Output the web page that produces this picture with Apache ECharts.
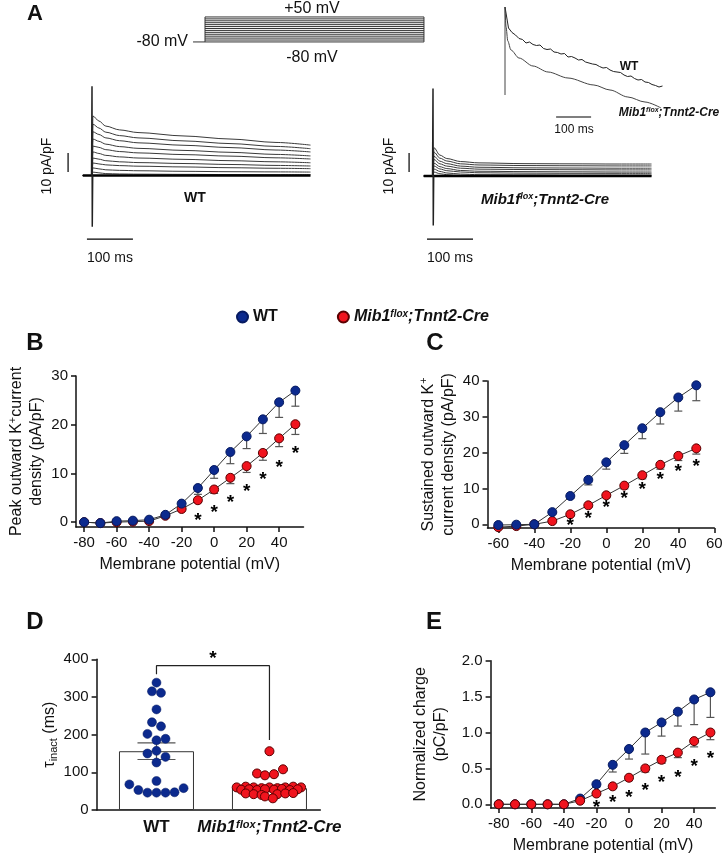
<!DOCTYPE html>
<html>
<head>
<meta charset="utf-8">
<script src="https://cdn.jsdelivr.net/npm/echarts@6/dist/echarts.min.js"></script>
<style>
html, body { margin: 0; padding: 0; background: #fff; }
#chart { width: 724px; height: 857px; }
</style>
</head>
<body>
<div id="chart"></div>
<script>
// ---------- A: voltage protocol (mV) ----------
const stepLevels = [-80, -70, -60, -50, -40, -30, -20, -10, 0, 10, 20, 30, 40, 50];
const stepMs = 476;

// ---------- A: current traces (ms, pA/pF) ----------
const traceTime = [-20, 0, 2, 15, 30, 60, 100, 200, 300, 400, 475];
const wtTraces = [
  [0, 0, 31.3, 28.7, 26.0, 24.0, 22.6, 20.8, 19.2, 17.4, 16.0],
  [0, 0, 27.0, 25.0, 22.8, 21.0, 19.8, 18.2, 16.8, 15.3, 14.1],
  [0, 0, 23.0, 21.6, 19.8, 18.3, 17.2, 15.9, 14.7, 13.4, 12.4],
  [0, 0, 19.2, 18.0, 16.5, 15.2, 14.3, 13.2, 12.2, 11.1, 10.3],
  [0, 0, 15.5, 14.8, 13.6, 12.6, 11.9, 11.0, 10.2, 9.3, 8.7],
  [0, 0, 12.4, 11.6, 10.6, 9.8, 9.2, 8.5, 7.8, 7.2, 6.7],
  [0, 0, 9.2, 8.6, 7.8, 7.2, 6.8, 6.3, 5.8, 5.3, 5.0],
  [0, 0, 6.6, 6.1, 5.6, 5.2, 4.9, 4.5, 4.1, 3.8, 3.6],
  [0, 0, 4.0, 3.5, 3.0, 2.7, 2.5, 2.2, 2.0, 1.9, 1.8],
  [0, 0, 1.8, 1.4, 1.0, 0.8, 0.7, 0.6, 0.5, 0.4, 0.4]
];
const koTraces = [
  [0, 0, 14.9, 11.0, 9.2, 7.6, 6.9, 6.5, 6.4, 6.3, 6.3],
  [0, 0, 12.6, 9.4, 7.9, 6.4, 5.8, 5.5, 5.4, 5.3, 5.3],
  [0, 0, 10.5, 7.8, 6.5, 5.2, 4.6, 4.3, 4.2, 4.1, 4.1],
  [0, 0, 8.7, 6.4, 5.2, 4.1, 3.6, 3.4, 3.3, 3.2, 3.2],
  [0, 0, 6.8, 4.9, 3.9, 2.9, 2.5, 2.3, 2.2, 2.1, 2.1],
  [0, 0, 5.3, 3.7, 2.8, 2.1, 1.7, 1.5, 1.4, 1.4, 1.4],
  [0, 0, 3.7, 2.4, 1.6, 1.0, 0.7, 0.6, 0.5, 0.5, 0.5],
  [0, 0, 2.1, 1.2, 0.7, 0.3, 0.2, 0.1, 0.1, 0.0, 0.0]
];
const wtSpike = [[-1, 0], [0, 47], [0.6, -27], [1.5, 0]];
const koSpike = [[-1, 0], [0, 46], [0.6, -26], [1.5, 0]];
const scaleMs = 100, scalePA = 10;

// ---------- A inset: normalized traces ----------
const insetWtT = [0, 10, 20, 30, 40, 50, 60, 70, 80, 90, 100, 110, 120, 130, 140, 150, 160, 170, 180, 190, 200, 210, 220,
  230, 240, 250, 260, 270, 280, 290, 300, 310, 320, 330, 340, 350, 360, 370, 380, 390, 400, 410, 420, 430, 440, 450];
const insetWt = [1.00, 0.79, 0.745, 0.72, 0.685, 0.675, 0.64, 0.65, 0.625, 0.615, 0.62, 0.585, 0.575, 0.58, 0.55, 0.545,
  0.53, 0.535, 0.50, 0.505, 0.49, 0.47, 0.475, 0.45, 0.44, 0.43, 0.425, 0.405, 0.39, 0.395, 0.37, 0.355, 0.35, 0.345,
  0.32, 0.305, 0.31, 0.285, 0.27, 0.275, 0.25, 0.245, 0.225, 0.215, 0.20, 0.21];
const insetKoT = [0, 3, 8, 17, 40, 80, 123, 180, 254, 300, 351, 400, 446];
const insetKo = [1.0, 0.8, 0.66, 0.57, 0.49, 0.41, 0.35, 0.29, 0.22, 0.17, 0.1, 0.05, -0.01];

// ---------- B: peak outward K+ current density ----------
const vmB = [-80, -70, -60, -50, -40, -30, -20, -10, 0, 10, 20, 30, 40, 50];
const peakWT = [0, -0.2, 0.2, 0.3, 0.5, 1.5, 3.8, 7.0, 10.7, 14.4, 17.6, 21.1, 24.6, 27.0];
const peakWTsem = [0, 0, 0, 0, 0.2, 0.3, 0.5, 1.3, 1.7, 2.4, 2.5, 2.9, 3.1, 3.2];
const peakKO = [0, -0.2, 0, 0.1, 0.2, 1.3, 2.7, 4.5, 6.7, 9.1, 11.5, 14.2, 17.2, 20.1];
const peakKOsem = [0, 0, 0, 0, 0.1, 0.2, 0.4, 0.5, 0.8, 1.2, 1.3, 1.5, 1.7, 2.1];
const peakStars = [[-10, 1.1], [0, 2.7], [10, 4.7], [20, 7.0], [30, 9.5], [40, 12.0], [50, 14.8]];

// ---------- C: sustained outward K+ current density ----------
const vmC = [-60, -50, -40, -30, -20, -10, 0, 10, 20, 30, 40, 50];
const sustWT = [-0.2, -0.1, 0, 3.4, 7.9, 12.4, 17.3, 22.1, 26.8, 31.3, 35.4, 38.8];
const sustWTsem = [0, 0, 0, 0.4, 0.6, 1.4, 1.9, 2.3, 2.9, 3.3, 3.8, 4.3];
const sustKO = [-0.8, -0.5, 0, 0.9, 2.8, 5.3, 8.1, 10.8, 13.7, 16.6, 19.1, 21.2];
const sustKOsem = [0, 0, 0, 0.2, 0.4, 0.6, 0.7, 0.9, 1.0, 1.2, 1.3, 1.6];
const sustStars = [[-20, 0.7], [-10, 2.6], [0, 5.6], [10, 8.2], [20, 10.8], [30, 13.5], [40, 15.9], [50, 17.3]];

// ---------- D: tau inact (ms) ----------
const tauPos = [0.5, 1.5];
const tauMean = [156, 58];
const tauSem = [22, 5];
const tauWTx = [0.5, 0.46, 0.54, 0.5, 0.46, 0.54, 0.42, 0.5, 0.58, 0.42, 0.5, 0.58, 0.5, 0.5, 0.26, 0.34, 0.42, 0.5, 0.58, 0.66, 0.74];
const tauWTy = [338, 315, 311, 267, 233, 222, 202, 185, 189, 150, 157, 141, 126, 77, 68, 53, 46, 46, 46, 47, 58];
const tauKOx = [1.5, 1.39, 1.46, 1.54, 1.62,
  1.21, 1.29, 1.36, 1.43, 1.5, 1.57, 1.64, 1.71, 1.78,
  1.25, 1.32, 1.39, 1.46, 1.54, 1.61, 1.68, 1.75,
  1.29, 1.36, 1.43, 1.57, 1.64, 1.71,
  1.46, 1.53];
const tauKOy = [156, 97, 92, 95, 108,
  60, 62, 60, 58, 60, 58, 60, 62, 60,
  54, 55, 53, 55, 54, 56, 53, 55,
  44, 42, 40, 42, 44, 45,
  36, 31];
const tauBracket = [[0.5, 360], [0.5, 383], [1.5, 383], [1.5, 186]];
const tauStar = [[1.0, 411]];

// ---------- E: normalized charge ----------
const chargeWT = [0, 0, 0, 0, 0, 0.08, 0.28, 0.55, 0.77, 1.0, 1.14, 1.29, 1.46, 1.56];
const chargeWTsem = [0, 0, 0, 0, 0, 0.02, 0.04, 0.1, 0.14, 0.3, 0.19, 0.2, 0.35, 0.35];
const chargeKO = [0, 0, 0, 0, 0, 0.05, 0.15, 0.25, 0.37, 0.5, 0.62, 0.72, 0.88, 1.0];
const chargeKOsem = [0, 0, 0, 0, 0, 0.01, 0.02, 0.03, 0.04, 0.05, 0.05, 0.07, 0.08, 0.1];
const chargeStars = [[-20, 0.01], [-10, 0.08], [0, 0.15], [10, 0.25], [20, 0.36], [30, 0.43], [40, 0.58], [50, 0.69]];

const fontFam = '"Liberation Sans", Arial, sans-serif';
const ink = '#111';
const blue = '#0c2a8e', blueEdge = '#061a60';
const red = '#f0141e', redEdge = '#5a0000';

const pairs = (xs, ys) => xs.map((x, i) => [x, ys[i]]);
const triples = (xs, ys, es) => xs.map((x, i) => [x, ys[i], es[i]]);

function hiddenAxis(gi, min, max) {
  return { gridIndex: gi, type: 'value', min, max, show: false };
}

function numAxis(gi, min, max, ticks, extra) {
  return Object.assign({
    gridIndex: gi, type: 'value', min, max,
    axisLine: { show: true, onZero: false, lineStyle: { color: ink, width: 1.5 } },
    axisTick: { show: true, length: 5, customValues: ticks, lineStyle: { color: ink, width: 1.5 } },
    axisLabel: { customValues: ticks, fontFamily: fontFam, fontSize: 15, color: ink, margin: 8 },
    splitLine: { show: false },
    nameTextStyle: { fontFamily: fontFam, fontSize: 16, color: ink }
  }, extra || {});
}

function xName() {
  return { name: 'Membrane potential (mV)', nameLocation: 'middle', nameGap: 30 };
}

function yNameRich(name, gap) {
  return {
    name, nameLocation: 'middle', nameGap: gap,
    nameTextStyle: {
      fontFamily: fontFam, fontSize: 16, color: ink, lineHeight: 20,
      rich: {
        t: { fontFamily: fontFam, fontSize: 16, color: ink, lineHeight: 20 },
        s: { fontFamily: fontFam, fontSize: 11, color: ink, verticalAlign: 'top', lineHeight: 20 },
        u: { fontFamily: fontFam, fontSize: 11, color: ink, verticalAlign: 'bottom', lineHeight: 20 }
      }
    }
  };
}

function traceLine(gi, data, width, color) {
  return {
    type: 'line', xAxisIndex: gi, yAxisIndex: gi, data, showSymbol: false, symbol: 'none',
    smooth: 0.3, smoothMonotone: 'x', silent: true, z: 2,
    lineStyle: { color: color || '#444', width: width || 1 }
  };
}

function straight(gi, data, width, color, z) {
  return {
    type: 'line', xAxisIndex: gi, yAxisIndex: gi, data, showSymbol: false, symbol: 'none',
    silent: true, z: z || 3, clip: false, lineStyle: { color: color || '#222', width: width || 1 }
  };
}

function curve(gi, name, xs, ys, color, edge, z) {
  return {
    type: 'line', name, xAxisIndex: gi, yAxisIndex: gi, data: pairs(xs, ys),
    symbol: 'circle', symbolSize: 9, z,
    lineStyle: { color: '#333', width: 1 },
    itemStyle: { color, borderColor: edge, borderWidth: 1 },
    emphasis: { disabled: true }
  };
}

function errBars(gi, data, both, cap) {
  return {
    type: 'custom', xAxisIndex: gi, yAxisIndex: gi, silent: true, z: 1,
    renderItem: (params, api) => {
      const x = api.value(0), y = api.value(1), e = api.value(2);
      if (!e) return null;
      const lo = api.coord([x, y - e]);
      const hi = api.coord([x, both ? y + e : y]);
      const kids = [
        { type: 'line', shape: { x1: hi[0], y1: hi[1], x2: lo[0], y2: lo[1] }, style: { stroke: '#555', lineWidth: 1.2 } },
        { type: 'line', shape: { x1: lo[0] - cap, y1: lo[1], x2: lo[0] + cap, y2: lo[1] }, style: { stroke: '#555', lineWidth: 1.2 } }
      ];
      if (both) kids.push({ type: 'line', shape: { x1: hi[0] - cap, y1: hi[1], x2: hi[0] + cap, y2: hi[1] }, style: { stroke: '#555', lineWidth: 1.2 } });
      return { type: 'group', children: kids };
    },
    data
  };
}

function stars(gi, data) {
  return {
    type: 'scatter', xAxisIndex: gi, yAxisIndex: gi, data, symbolSize: 1, silent: true, z: 6, clip: false,
    itemStyle: { color: 'rgba(0,0,0,0)', opacity: 1 },
    label: { show: true, position: 'inside', formatter: '*', fontFamily: fontFam, fontSize: 19, fontWeight: 'bold', color: '#000', opacity: 1, offset: [0, 4] }
  };
}

function txt(x, y, text, size, opts) {
  return {
    type: 'text', x, y, rotation: (opts && opts.rot) || 0, silent: true,
    style: Object.assign({
      text, fill: ink, fontFamily: fontFam, fontSize: size,
      fontWeight: (opts && opts.weight) || 'normal', fontStyle: (opts && opts.style) || 'normal',
      align: (opts && opts.align) || 'center', verticalAlign: 'middle'
    }, (opts && opts.extra) || {})
  };
}

const richMib = (size, supSize) => ({
  i: { fontFamily: fontFam, fontSize: size, fontWeight: 'bold', fontStyle: 'italic', fill: ink, color: ink },
  s: { fontFamily: fontFam, fontSize: supSize, fontWeight: 'bold', fontStyle: 'italic', fill: ink, color: ink, verticalAlign: 'top' },
  b: { fontFamily: fontFam, fontSize: size, fontWeight: 'bold', fill: ink, color: ink }
});

// ----- series -----
const series = [];

// protocol (grid 0)
stepLevels.forEach(v => series.push(straight(0, [[0, v], [stepMs, v]], 1, '#333')));
series.push(straight(0, [[-26, -80], [0, -80]], 1, '#333'));
series.push(straight(0, [[0, -80], [0, 50]], 1, '#333'));
series.push(straight(0, [[stepMs, -80], [stepMs, 50]], 1, '#333'));

// WT traces (grid 1)
wtTraces.forEach(tr => series.push(traceLine(1, pairs(traceTime, tr), 1, '#3a3a3a')));
series.push(straight(1, [[-20, 0], [475, 0]], 2.5, '#000'));
series.push(straight(1, wtSpike, 1.5, '#222'));
series.push(straight(1, [[-11, -33.5], [-11 + scaleMs, -33.5]], 1.2, '#000'));
series.push(straight(1, [[-52, 1.8], [-52, 1.8 + scalePA]], 1.2, '#000'));

// KO traces (grid 2)
koTraces.forEach(tr => series.push(traceLine(2, pairs(traceTime, tr), 1, '#3a3a3a')));
series.push(straight(2, [[-20, 0], [475, 0]], 2.5, '#000'));
series.push(straight(2, koSpike, 1.5, '#222'));
series.push(straight(2, [[-13, -33.2], [-13 + scaleMs, -33.2]], 1.2, '#000'));
series.push(straight(2, [[-52, 2.1], [-52, 2.1 + scalePA]], 1.2, '#000'));

// inset (grid 3)
series.push(straight(3, pairs(insetWtT, insetWt), 1, '#222'));
series.push(traceLine(3, pairs(insetKoT, insetKo), 1, '#444'));
series.push(straight(3, [[0, 0.12], [0, 1.0]], 1, '#444'));
series.push(straight(3, [[146, -0.1], [146 + scaleMs, -0.1]], 1.2, '#000'));

// B (grid 4)
series.push(errBars(4, triples(vmB, peakWT, peakWTsem), false, 4));
series.push(errBars(4, triples(vmB, peakKO, peakKOsem), false, 4));
series.push(curve(4, 'Mib1', vmB, peakKO, red, redEdge, 3));
series.push(curve(4, 'WT', vmB, peakWT, blue, blueEdge, 4));
series.push(stars(4, peakStars));

// C (grid 5)
series.push(errBars(5, triples(vmC, sustWT, sustWTsem), false, 4));
series.push(errBars(5, triples(vmC, sustKO, sustKOsem), false, 4));
series.push(curve(5, 'Mib1', vmC, sustKO, red, redEdge, 3));
series.push(curve(5, 'WT', vmC, sustWT, blue, blueEdge, 4));
series.push(stars(5, sustStars));

// D (grid 6)
series.push({
  type: 'bar', xAxisIndex: 6, yAxisIndex: 6, data: pairs(tauPos, tauMean), barWidth: 75, silent: true, z: 1,
  itemStyle: { color: '#fff', borderColor: '#333', borderWidth: 1 }
});
series.push(Object.assign(errBars(6, triples(tauPos, tauMean, tauSem), true, 19), { z: 2 }));
series.push({
  type: 'scatter', xAxisIndex: 6, yAxisIndex: 6, data: pairs(tauWTx, tauWTy), symbolSize: 9, z: 4, silent: true,
  itemStyle: { color: blue, borderColor: blueEdge, borderWidth: 0.5, opacity: 1 }
});
series.push({
  type: 'scatter', xAxisIndex: 6, yAxisIndex: 6, data: pairs(tauKOx, tauKOy), symbolSize: 9, z: 4, silent: true,
  itemStyle: { color: red, borderColor: redEdge, borderWidth: 1, opacity: 1 }
});
series.push(straight(6, tauBracket, 1.2, '#222'));
series.push(stars(6, tauStar));

// E (grid 7)
series.push(errBars(7, triples(vmB, chargeWT, chargeWTsem), false, 4));
series.push(errBars(7, triples(vmB, chargeKO, chargeKOsem), false, 4));
series.push(curve(7, 'WT', vmB, chargeWT, blue, blueEdge, 3));
series.push(curve(7, 'Mib1', vmB, chargeKO, red, redEdge, 4));
series.push(stars(7, chargeStars));

const grids = [
  { left: 191.2, top: 16, width: 234.6, height: 26.9 },      // protocol
  { left: 64.4, top: 80.5, width: 257.6, height: 171 },      // WT traces
  { left: 405.4, top: 81, width: 257.6, height: 171 },       // KO traces
  { left: 503.25, top: 2, width: 162.75, height: 120 },      // inset
  { left: 76, top: 376, width: 227.5, height: 151 },         // B
  { left: 487.5, top: 381, width: 226.8, height: 146.9 },    // C
  { left: 96.6, top: 659.3, width: 223.7, height: 150.7 },   // D
  { left: 490.6, top: 660.7, width: 224.7, height: 147.2 }   // E
].map(g => Object.assign({ outerBoundsMode: 'none', containLabel: false }, g));

const ticks20B = [-80, -60, -40, -20, 0, 20, 40];
const xAxes = [
  hiddenAxis(0, -30, 480),
  hiddenAxis(1, -60, 500),
  hiddenAxis(2, -60, 500),
  hiddenAxis(3, -5, 460),
  numAxis(4, -85, 55, ticks20B, xName()),
  numAxis(5, -66, 60, [-60, -40, -20, 0, 20, 40, 60], xName()),
  numAxis(6, -0.03, 1.95, [0.5, 1.5], {
    axisTick: { show: false },
    axisLabel: {
      customValues: [0.5, 1.5], margin: 9,
      formatter: v => v < 1 ? '{b|WT}' : '{i|Mib1}{s|flox}{i|;Tnnt2-Cre}',
      rich: richMib(17, 11)
    }
  }),
  numAxis(7, -85, 53, ticks20B, xName())
];
const yAxes = [
  hiddenAxis(0, -85, 55),
  hiddenAxis(1, -40, 50),
  hiddenAxis(2, -40, 50),
  hiddenAxis(3, -0.15, 1.05),
  numAxis(4, -1, 30, [0, 10, 20, 30], yNameRich('{t|Peak outward K}{s|+}{t|current}\n{t|density (pA/pF)}', 29)),
  numAxis(5, -1, 40, [0, 10, 20, 30, 40], yNameRich('{t|Sustained outward K}{s|+}\n{t|current density (pA/pF)}', 20)),
  numAxis(6, 0, 400, [0, 100, 200, 300, 400], yNameRich('{t|τ}{u|inact}{t| (ms)}', 34)),
  numAxis(7, -0.05, 2, [0, 0.5, 1, 1.5, 2], Object.assign(yNameRich('{t|Normalized charge}\n{t|(pC/pF)}', 40), {
    axisLabel: { customValues: [0, 0.5, 1, 1.5, 2], fontFamily: fontFam, fontSize: 15, color: ink, margin: 8, formatter: v => v.toFixed(1) }
  }))
];

const graphics = [
  txt(35, 14, 'A', 22, { weight: 'bold' }),
  txt(35, 343, 'B', 24, { weight: 'bold' }),
  txt(435, 343, 'C', 24, { weight: 'bold' }),
  txt(35, 622, 'D', 24, { weight: 'bold' }),
  txt(434, 622, 'E', 24, { weight: 'bold' }),
  txt(188, 42, '-80 mV', 16, { align: 'right' }),
  txt(312, 9, '+50 mV', 16),
  txt(312, 58, '-80 mV', 16),
  txt(47, 166, '10 pA/pF', 14, { rot: Math.PI / 2 }),
  txt(110, 258, '100 ms', 14),
  txt(195, 198, 'WT', 14, { weight: 'bold' }),
  txt(389, 166, '10 pA/pF', 14, { rot: Math.PI / 2 }),
  txt(450, 258, '100 ms', 14),
  txt(545, 200, '{i|Mib1f}{s|lox}{i|;Tnnt2-Cre}', 15, { extra: { rich: richMib(15, 9) } }),
  txt(629, 67, 'WT', 12, { weight: 'bold' }),
  txt(574, 130, '100 ms', 12),
  txt(669, 113, '{i|Mib1}{s|flox}{i|;Tnnt2-Cre}', 12, { extra: { rich: richMib(12, 7) } })
];

const chart = echarts.init(document.getElementById('chart'), null, { renderer: 'canvas' });
chart.setOption({
  animation: false,
  backgroundColor: '#fff',
  textStyle: { fontFamily: fontFam },
  legend: {
    top: 304, left: 231, itemGap: 59, itemWidth: 11, itemHeight: 11, icon: 'circle',
    data: ['WT', 'Mib1'], selectedMode: false,
    formatter: name => name === 'WT' ? '{b|WT}' : '{i|Mib1}{s|flox}{i|;Tnnt2-Cre}',
    textStyle: { fontFamily: fontFam, fontSize: 16, fontWeight: 'bold', color: ink, rich: richMib(16, 10) }
  },
  grid: grids,
  xAxis: xAxes,
  yAxis: yAxes,
  series,
  graphic: graphics
});
</script>
</body>
</html>
